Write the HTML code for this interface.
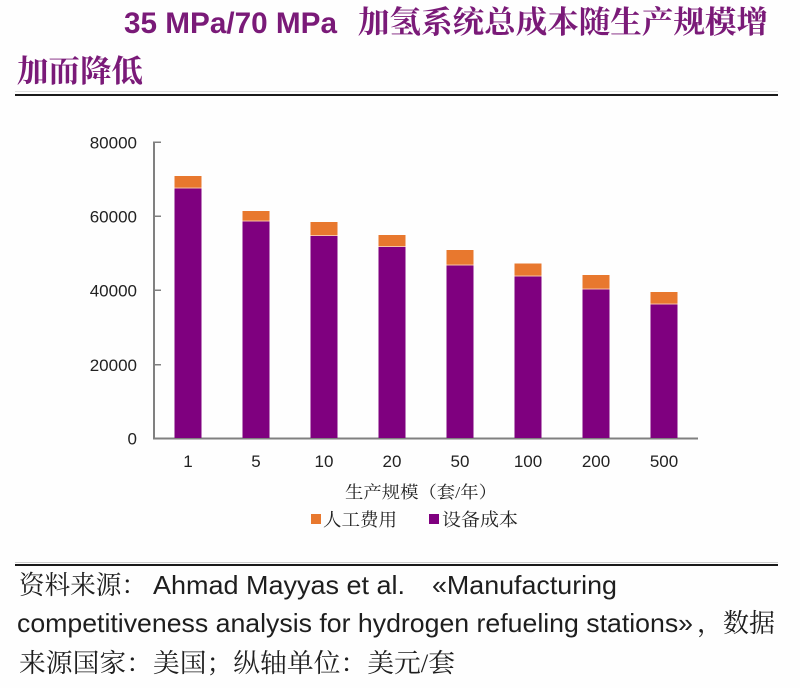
<!DOCTYPE html>
<html>
<head>
<meta charset="utf-8">
<style>
html,body{margin:0;padding:0;background:#fefefe;}
svg{display:block;}
.ttl{fill:#7a1a78;}
.lat{font-family:"Liberation Sans",Arial,sans-serif;}
.cjk{font-family:"Liberation Serif","Noto Serif CJK SC",serif;}
.cjks{font-family:"Liberation Sans","Noto Sans CJK SC",sans-serif;}
</style>
</head>
<body>
<svg width="800" height="688" viewBox="0 0 800 688" xmlns="http://www.w3.org/2000/svg">
<rect x="0" y="0" width="800" height="688" fill="#fefefe"/>

<!-- Title -->
<g class="ttl">
<text class="lat" x="124" y="33" font-size="30" font-weight="bold" textLength="213" lengthAdjust="spacingAndGlyphs">35 MPa/70 MPa</text>
<text class="cjk" x="358" y="33" font-size="31" font-weight="bold" textLength="410" lengthAdjust="spacingAndGlyphs">加氢系统总成本随生产规模增</text>
<text class="cjk" x="17" y="82" font-size="31" font-weight="bold" textLength="126" lengthAdjust="spacingAndGlyphs">加而降低</text>
</g>
<rect x="15" y="91" width="763" height="1" fill="#dddddd"/>
<rect x="15" y="94" width="763" height="2" fill="#1a1a1a"/>

<!-- Axes -->
<g fill="#808080">
<rect x="153" y="142" width="2" height="297.5"/>
<rect x="153" y="437.5" width="545" height="2"/>
<rect x="153" y="141.5" width="8" height="1.5"/>
<rect x="153" y="215.5" width="8" height="1.5"/>
<rect x="153" y="289.5" width="8" height="1.5"/>
<rect x="153" y="364" width="8" height="1.5"/>
</g>

<!-- Y labels -->
<g class="lat" font-size="17" fill="#222" text-anchor="end">
<text x="137" y="148.5">80000</text>
<text x="137" y="222.5">60000</text>
<text x="137" y="296.5">40000</text>
<text x="137" y="371">20000</text>
<text x="137" y="444.5">0</text>
</g>

<!-- Bars -->
<g>
<rect x="174.5" y="176" width="27" height="12" fill="#e8782e"/>
<rect x="174.5" y="188" width="27" height="250" fill="#7f007f"/>
<rect x="242.5" y="211" width="27" height="10" fill="#e8782e"/>
<rect x="242.5" y="221" width="27" height="217" fill="#7f007f"/>
<rect x="310.5" y="222" width="27" height="13.5" fill="#e8782e"/>
<rect x="310.5" y="235.5" width="27" height="202.5" fill="#7f007f"/>
<rect x="378.5" y="235" width="27" height="11.5" fill="#e8782e"/>
<rect x="378.5" y="246.5" width="27" height="191.5" fill="#7f007f"/>
<rect x="446.5" y="250" width="27" height="15" fill="#e8782e"/>
<rect x="446.5" y="265" width="27" height="173" fill="#7f007f"/>
<rect x="514.5" y="263.5" width="27" height="12.5" fill="#e8782e"/>
<rect x="514.5" y="276" width="27" height="162" fill="#7f007f"/>
<rect x="582.5" y="275" width="27" height="14" fill="#e8782e"/>
<rect x="582.5" y="289" width="27" height="149" fill="#7f007f"/>
<rect x="650.5" y="292" width="27" height="12" fill="#e8782e"/>
<rect x="650.5" y="304" width="27" height="134" fill="#7f007f"/>
</g>
<g fill="#f6c2a4">
<rect x="174.5" y="187.5" width="27" height="1"/>
<rect x="242.5" y="220.5" width="27" height="1"/>
<rect x="310.5" y="235" width="27" height="1"/>
<rect x="378.5" y="246" width="27" height="1"/>
<rect x="446.5" y="264.5" width="27" height="1"/>
<rect x="514.5" y="275.5" width="27" height="1"/>
<rect x="582.5" y="288.5" width="27" height="1"/>
<rect x="650.5" y="303.5" width="27" height="1"/>
</g>

<!-- X labels -->
<g class="lat" font-size="17" fill="#222" text-anchor="middle">
<text x="188" y="467">1</text>
<text x="256" y="467">5</text>
<text x="324" y="467">10</text>
<text x="392" y="467">20</text>
<text x="460" y="467">50</text>
<text x="528" y="467">100</text>
<text x="596" y="467">200</text>
<text x="664" y="467">500</text>
</g>

<!-- Axis title -->
<text class="cjk" x="345" y="498" font-size="17" fill="#222" textLength="152" lengthAdjust="spacingAndGlyphs">生产规模（套/年）</text>

<!-- Legend -->
<rect x="311" y="514" width="10" height="10" fill="#e8782e"/>
<text class="cjk" x="323" y="526" font-size="18" fill="#222" textLength="74" lengthAdjust="spacingAndGlyphs">人工费用</text>
<rect x="429" y="514" width="10" height="10" fill="#7f007f"/>
<text class="cjk" x="442" y="526" font-size="18" fill="#222" textLength="76" lengthAdjust="spacingAndGlyphs">设备成本</text>

<!-- Footer rule -->
<rect x="15" y="562" width="763" height="1" fill="#cccccc"/>
<rect x="15" y="564" width="763" height="2" fill="#1a1a1a"/>

<!-- Footer text -->
<g fill="#1e1e1e">
<text class="cjk" x="19" y="594" font-size="26" textLength="128" lengthAdjust="spacingAndGlyphs">资料来源：</text>
<text class="lat" x="153" y="594" font-size="26" textLength="252" lengthAdjust="spacingAndGlyphs">Ahmad Mayyas et al.</text>
<text class="lat" x="432" y="594" font-size="26" textLength="185" lengthAdjust="spacingAndGlyphs">«Manufacturing</text>
<text class="lat" x="17" y="632" font-size="26" textLength="676" lengthAdjust="spacingAndGlyphs">competitiveness analysis for hydrogen refueling stations»</text>
<text class="cjk" x="697" y="632" font-size="26" textLength="78" lengthAdjust="spacingAndGlyphs">，数据</text>
<text class="cjk" x="19" y="672" font-size="26" textLength="436" lengthAdjust="spacingAndGlyphs">来源国家：美国；纵轴单位：美元/套</text>
</g>
</svg>
</body>
</html>
